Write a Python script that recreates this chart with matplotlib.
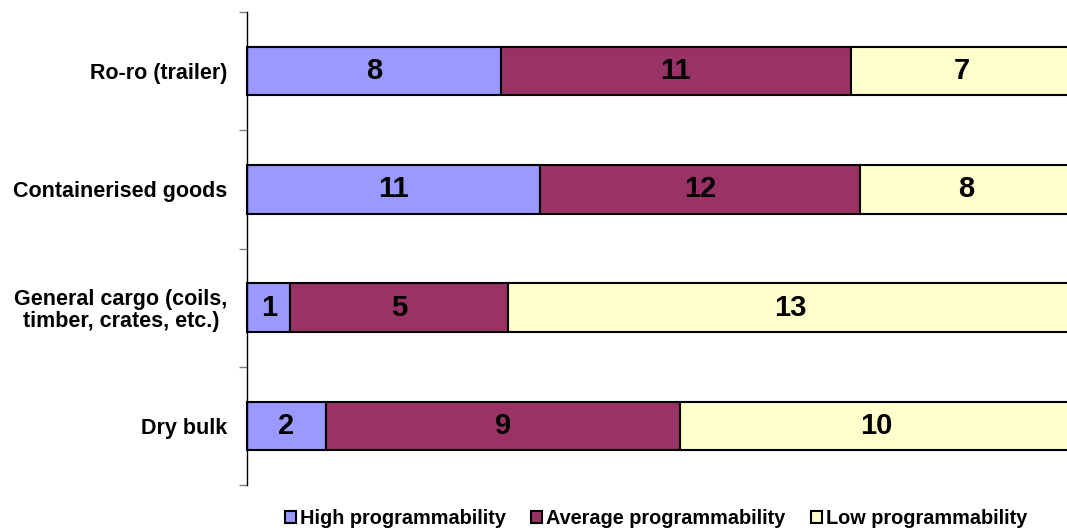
import matplotlib
matplotlib.use("Agg")
import matplotlib.pyplot as plt
import numpy as np
from matplotlib.patches import Patch

categories = ["Ro-ro (trailer)", "Containerised goods",
              "General cargo (coils,\ntimber, crates, etc.)", "Dry bulk"]
high = [8, 11, 1, 2]
average = [11, 12, 5, 9]
low = [7, 8, 13, 10]
series_names = ["High programmability", "Average programmability", "Low programmability"]
colors = ["#9999FF", "#993366", "#FFFFCC"]

plt.rcParams['font.family'] = ['Liberation Sans', 'DejaVu Sans']

fig = plt.figure(figsize=(10.67, 5.30), dpi=100)
ax = fig.add_axes([247/1067, 45/530, 826/1067, 473/530])

data = np.array([high, average, low], dtype=float)
totals = data.sum(axis=0)
shares = data / totals
ypos = np.arange(len(categories))
left = np.zeros(len(categories))
for i in range(3):
    bars = ax.barh(ypos, shares[i], left=left, height=0.41, color=colors[i],
                   edgecolor="black", linewidth=1.5, clip_on=False, zorder=2)
    for j, b in enumerate(bars):
        ax.text(left[j] + shares[i][j] / 2, ypos[j], str(int(data[i][j])),
                ha="center", va="center", fontsize=21, fontweight="bold",
                color="black", zorder=3)
    left += shares[i]

ax.set_xlim(0, 1)
ax.set_ylim(len(categories) - 0.5, -0.5)
ax.set_yticks(ypos)
ax.set_yticklabels(categories, fontsize=15.5, fontweight="bold", ha="right",
                   multialignment="center", linespacing=1.05)
ax.tick_params(axis="y", which="major", length=0, pad=14)
ax.set_yticks(np.arange(-0.5, len(categories)), minor=True)
ax.tick_params(axis="y", which="minor", length=6, color="#808080", width=1)
ax.set_xticks([])
for s in ["top", "right", "bottom"]:
    ax.spines[s].set_visible(False)
ax.spines["left"].set_linewidth(1)
ax.spines["left"].set_color("black")

handles = [Patch(facecolor=c, edgecolor="black", linewidth=1.5) for c in colors]
leg = fig.legend(handles, series_names, loc="lower center", ncol=3,
                 bbox_to_anchor=(656/1067, -0.03), frameon=False,
                 prop={"size": 14.3, "weight": "bold"},
                 handlelength=0.55, handleheight=0.55, handletextpad=0.2,
                 columnspacing=1.3)

fig.savefig("out.png", dpi=100)
